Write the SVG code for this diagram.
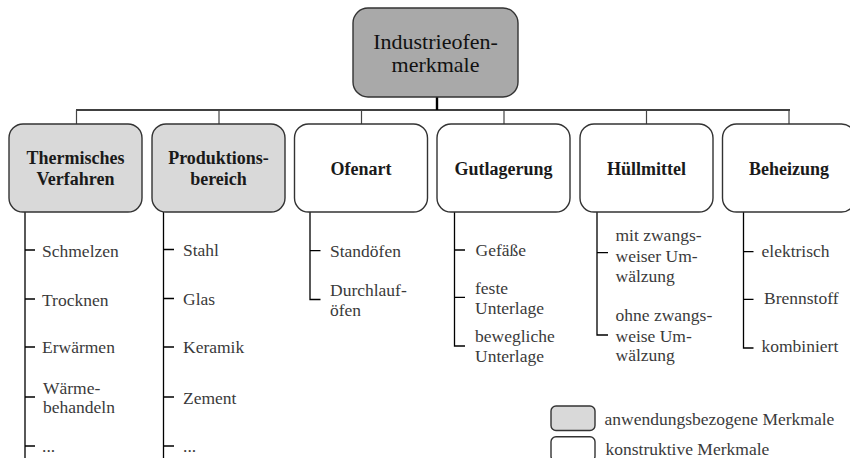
<svg xmlns="http://www.w3.org/2000/svg" width="850" height="458" viewBox="0 0 850 458" font-family="Liberation Serif, DejaVu Serif, Times New Roman, serif">
<style>
.box{stroke:#333;stroke-width:1.4;fill:#fff}
.app{fill:#d9d9d9}
.top{fill:#a9a9a9}
.ln{stroke:#000;stroke-width:1.3;fill:none}
.dr{stroke:#444;stroke-width:1.2;fill:none}
</style>
<rect width="850" height="458" fill="#fff"/>
<g id="connectors">
<line class="ln" x1="437" y1="97" x2="437" y2="110" style="stroke-width:2.4"/>
<line class="ln" x1="76" y1="110" x2="790" y2="110"/>
<line class="dr" x1="76.5" y1="110" x2="76.5" y2="124"/>
<line class="dr" x1="219" y1="110" x2="219" y2="124"/>
<line class="dr" x1="361.5" y1="110" x2="361.5" y2="124"/>
<line class="dr" x1="504" y1="110" x2="504" y2="124"/>
<line class="dr" x1="646.5" y1="110" x2="646.5" y2="124"/>
<line class="dr" x1="789" y1="110" x2="789" y2="124"/>
<path class="ln" d="M25 212V458M25 250H35M25 299H35M25 347H35M25 397H35M25 446H35"/>
<path class="ln" d="M163.5 212V458M163.5 249.5H174M163.5 298.5H174M163.5 347H174M163.5 397H174M163.5 446H174"/>
<path class="ln" d="M310 212V299.5H320.5M310 250.7H320.5"/>
<path class="ln" d="M454.5 212V346H465M454.5 250H465M454.5 297.3H465"/>
<path class="ln" d="M597 212V335H608M597 252.7H608"/>
<path class="ln" d="M743.5 212V348H753.5M743.5 251.7H753.5M743.5 299.3H753.5"/>
</g>
<g id="root" font-family="Liberation Serif, DejaVu Serif, serif" font-size="22" fill="#111" text-anchor="middle">
<rect class="box top" x="353" y="8" width="165" height="89" rx="15"/>
<text x="435.5" y="48.5">Industrieofen-</text>
<text x="435.5" y="72">merkmale</text>
</g>
<g id="thermisch" font-family="Liberation Serif, DejaVu Serif, serif" font-size="17.5" fill="#3a3a3a">
<rect class="box app" x="9" y="124" width="133" height="88" rx="14"/>
<text x="75.5" y="164" font-weight="bold" font-size="18" fill="#1a1a1a" text-anchor="middle">Thermisches</text>
<text x="75.5" y="185" font-weight="bold" font-size="18" fill="#1a1a1a" text-anchor="middle">Verfahren</text>
<text x="42" y="256.5">Schmelzen</text>
<text x="42" y="305.5">Trocknen</text>
<text x="42" y="353">Erwärmen</text>
<text x="43" y="394">Wärme-</text>
<text x="43" y="412.5">behandeln</text>
<text x="42" y="452">...</text>
</g>
<g id="produktion" font-family="Liberation Serif, DejaVu Serif, serif" font-size="17.5" fill="#3a3a3a">
<rect class="box app" x="152" y="124" width="133" height="88" rx="14"/>
<text x="218.5" y="164" font-weight="bold" font-size="18" fill="#1a1a1a" text-anchor="middle">Produktions-</text>
<text x="218.5" y="185" font-weight="bold" font-size="18" fill="#1a1a1a" text-anchor="middle">bereich</text>
<text x="183" y="256">Stahl</text>
<text x="183" y="305">Glas</text>
<text x="183" y="353">Keramik</text>
<text x="183" y="403.5">Zement</text>
<text x="183" y="452">...</text>
</g>
<g id="ofenart" font-family="Liberation Serif, DejaVu Serif, serif" font-size="17.5" fill="#3a3a3a">
<rect class="box" x="294.5" y="124" width="133" height="88" rx="14"/>
<text x="361" y="175" font-weight="bold" font-size="18" fill="#1a1a1a" text-anchor="middle">Ofenart</text>
<text x="330" y="256.5">Standöfen</text>
<text x="330" y="296">Durchlauf-</text>
<text x="330" y="316">öfen</text>
</g>
<g id="gutlagerung" font-family="Liberation Serif, DejaVu Serif, serif" font-size="17.5" fill="#3a3a3a">
<rect class="box" x="437" y="124" width="133" height="88" rx="14"/>
<text x="503.5" y="175" font-weight="bold" font-size="18" fill="#1a1a1a" text-anchor="middle">Gutlagerung</text>
<text x="475.5" y="255.5">Gefäße</text>
<text x="475" y="294">feste</text>
<text x="475" y="314">Unterlage</text>
<text x="475" y="341.5">bewegliche</text>
<text x="475" y="361.5">Unterlage</text>
</g>
<g id="huellmittel" font-family="Liberation Serif, DejaVu Serif, serif" font-size="17.5" fill="#3a3a3a">
<rect class="box" x="580" y="124" width="133" height="88" rx="14"/>
<text x="646.5" y="175" font-weight="bold" font-size="18" fill="#1a1a1a" text-anchor="middle">Hüllmittel</text>
<text x="615.5" y="241">mit zwangs-</text>
<text x="615.5" y="261.5">weiser Um-</text>
<text x="615.5" y="281.5">wälzung</text>
<text x="615.5" y="321">ohne zwangs-</text>
<text x="615.5" y="341.5">weise Um-</text>
<text x="615.5" y="361">wälzung</text>
</g>
<g id="beheizung" font-family="Liberation Serif, DejaVu Serif, serif" font-size="17.5" fill="#3a3a3a">
<rect class="box" x="722.5" y="124" width="133" height="88" rx="14"/>
<text x="789" y="175" font-weight="bold" font-size="18" fill="#1a1a1a" text-anchor="middle">Beheizung</text>
<text x="761.5" y="256.5">elektrisch</text>
<text x="764" y="304">Brennstoff</text>
<text x="761.5" y="352">kombiniert</text>
</g>
<g id="legend" font-family="Liberation Serif, DejaVu Serif, serif" font-size="17.5" fill="#3a3a3a">
<rect class="box app" x="551" y="406" width="44" height="24.5" rx="5"/>
<text x="604.5" y="425">anwendungsbezogene Merkmale</text>
<rect class="box" x="551" y="436.7" width="44" height="24.5" rx="5"/>
<text x="605.5" y="455">konstruktive Merkmale</text>
</g>
</svg>
